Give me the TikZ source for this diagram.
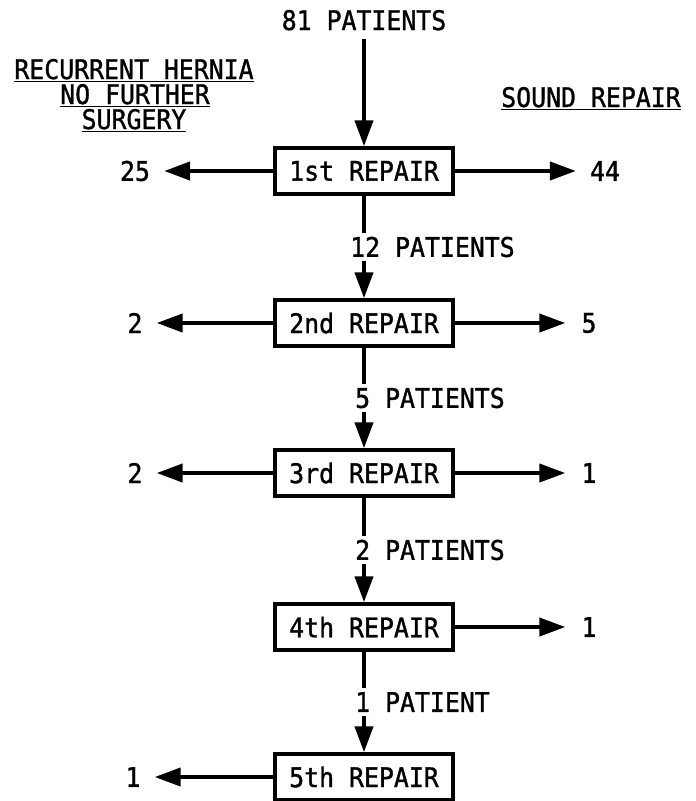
\documentclass[tikz,border=0pt]{standalone}
\usepackage{fontspec}
\setmainfont[FakeStretch=0.92,FakeBold=1.2]{DejaVu Sans Mono}
\usetikzlibrary{arrows.meta}
\newcommand\ulx[1]{\setbox0\hbox{#1}\rlap{\vrule height -1.5pt depth 3.3pt width \wd0}\box0}
\begin{document}
\begin{tikzpicture}[x=1pt,y=-1pt,
  font=\fontsize{27}{23}\selectfont,
  box/.style={draw, line width=3.5pt, minimum width=178pt, minimum height=46pt, inner sep=0pt},
  flow/.style={line width=4pt, -{Triangle[length=26pt,width=18pt]}},
  lbl/.style={inner sep=0pt},
  cnt/.style={lbl, fill=white, inner ysep=4pt, inner xsep=0pt, anchor=west},
  ]
\useasboundingbox (0,0) rectangle (696,801);

% headings
\node[lbl, anchor=base] (top) at (364,30) {81 PATIENTS};
\node[lbl, anchor=base] (rh1) at (134,79) {\ulx{RECURRENT HERNIA}};
\node[lbl, anchor=base] (rh2) at (135,104) {\ulx{NO FURTHER}};
\node[lbl, anchor=base] (rh3) at (134,129) {\ulx{SURGERY}};
\node[lbl, anchor=base] (sr) at (591,107) {\ulx{SOUND REPAIR}};

% repair boxes
\node[box] (r1) at (364,171) {1st REPAIR};
\node[box] (r2) at (364,323) {2nd REPAIR};
\node[box] (r3) at (364,473) {3rd REPAIR};
\node[box] (r4) at (364,627) {4th REPAIR};
\node[box] (r5) at (364,777) {5th REPAIR};

% outcome numbers
\node[lbl] (l1) at (135,171) {25};
\node[lbl] (s1) at (605,171) {44};
\node[lbl] (l2) at (135,323) {2};
\node[lbl] (s2) at (589,323) {5};
\node[lbl] (l3) at (135,473) {2};
\node[lbl] (s3) at (589,473) {1};
\node[lbl] (s4) at (589,627) {1};
\node[lbl] (l5) at (133,777) {1};

% main flow
\draw[flow, shorten <=8pt] (top.south) -- (r1.north);
\draw[flow] (r1.south) -- (r2.north);
\draw[flow] (r2.south) -- (r3.north);
\draw[flow] (r3.south) -- (r4.north);
\draw[flow] (r4.south) -- (r5.north);

% side flows
\draw[flow, shorten >=14pt] (r1.west) -- (l1.east);
\draw[flow, shorten >=14pt] (r1.east) -- (s1.west);
\draw[flow, shorten >=14pt] (r2.west) -- (l2.east);
\draw[flow, shorten >=16pt] (r2.east) -- (s2.west);
\draw[flow, shorten >=14pt] (r3.west) -- (l3.east);
\draw[flow, shorten >=16pt] (r3.east) -- (s3.west);
\draw[flow, shorten >=16pt] (r4.east) -- (s4.west);
\draw[flow, shorten >=14pt] (r5.west) -- (l5.east);

% patient counts between repairs
\node[cnt] (p12) at (350,247) {12 PATIENTS};
\node[cnt] (p23) at (355,398) {5 PATIENTS};
\node[cnt] (p34) at (355,550) {2 PATIENTS};
\node[cnt] (p45) at (355,702) {1 PATIENT};
\end{tikzpicture}
\end{document}
